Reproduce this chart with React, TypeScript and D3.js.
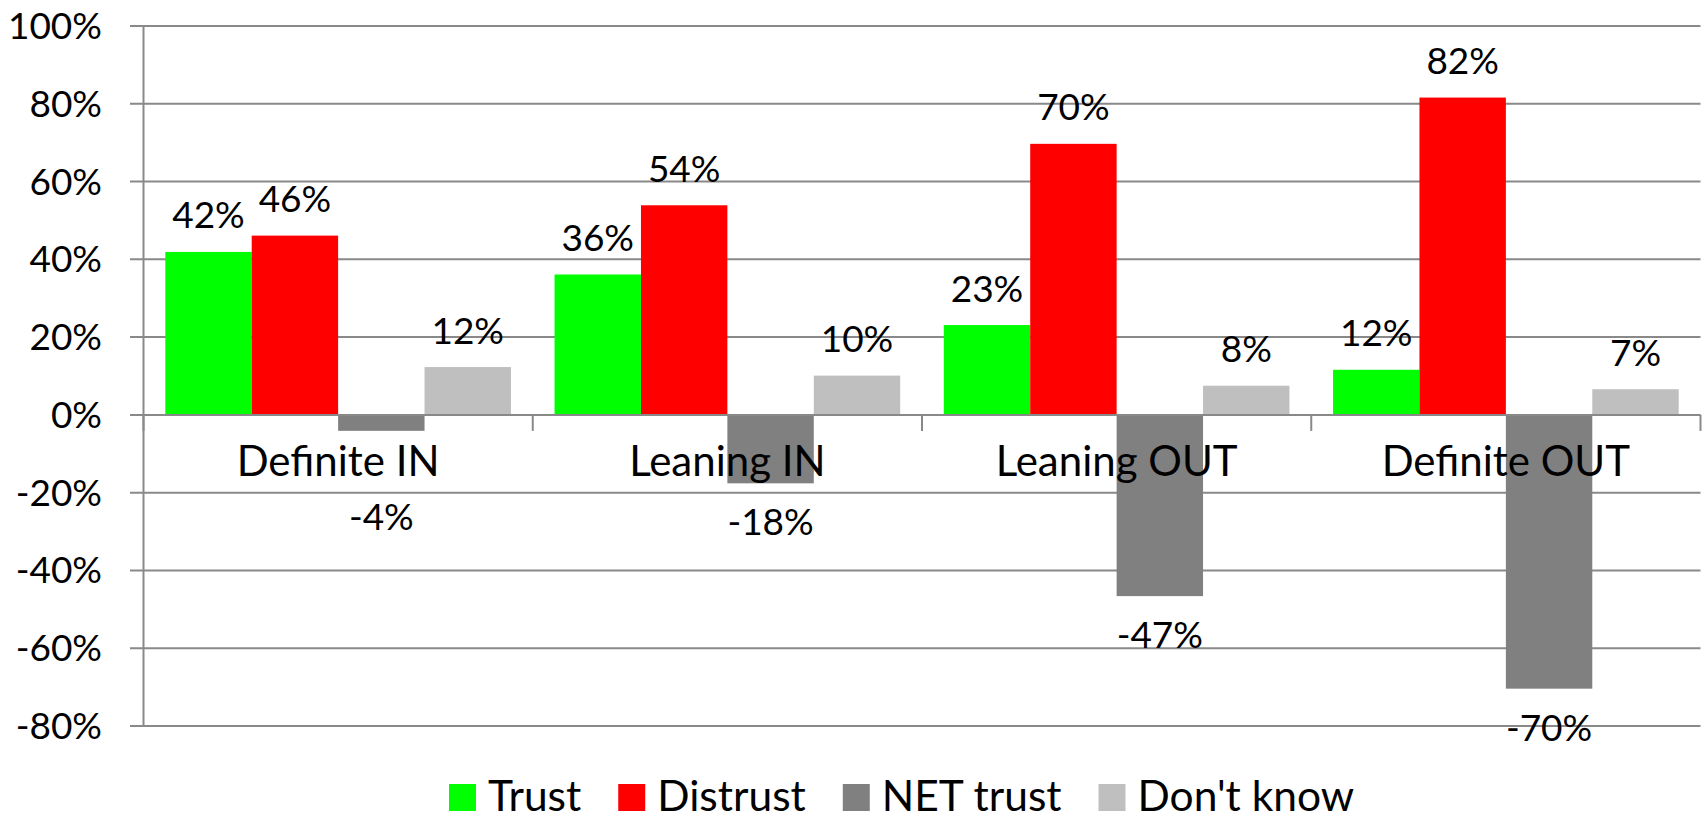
import React, { useEffect, useRef } from 'react'
import * as d3 from 'd3'

const categories = ['Definite IN', 'Leaning IN', 'Leaning OUT', 'Definite OUT']
const seriesNames = ['Trust', 'Distrust', 'NET trust', "Don't know"]
const trust = [41.9, 36.1, 23.1, 11.6]
const distrust = [46.1, 53.9, 69.7, 81.6]
const netTrust = [-4.1, -17.6, -46.6, -70.4]
const dontKnow = [12.3, 10.1, 7.5, 6.6]
const yTicks = [-80, -60, -40, -20, 0, 20, 40, 60, 80, 100]
const colors = ['#00ff00', '#ff0000', '#808080', '#bfbfbf']

const TrustChart = () => {
  const ref = useRef<HTMLDivElement>(null)

  useEffect(() => {
    document.body.style.margin = '0'
    const width = 1708
    const height = 820
    const margin = { top: 26, right: 7.5, bottom: 94, left: 143.5 }
    const font = 'Lato, "Open Sans", sans-serif'
    const values = [trust, distrust, netTrust, dontKnow]

    const x0 = d3.scaleBand().domain(categories).range([margin.left, width - margin.right]).padding(0)
    const pad = x0.bandwidth() * 0.056
    const x1 = d3.scaleBand().domain(seriesNames).range([pad, x0.bandwidth() - pad]).padding(0)
    const y = d3.scaleLinear().domain([-80, 100]).range([height - margin.bottom, margin.top])

    const svg = d3.select(ref.current)
      .append('svg')
      .attr('width', width)
      .attr('height', height)
      .style('display', 'block')
      .style('font-family', font)

    // grid + left ticks
    svg.append('g')
      .selectAll('line')
      .data(yTicks)
      .enter()
      .append('line')
      .attr('x1', margin.left - 13.5)
      .attr('x2', width - margin.right)
      .attr('y1', (d) => y(d))
      .attr('y2', (d) => y(d))
      .attr('stroke', '#898989')
      .attr('stroke-width', 2)

    svg.append('g')
      .selectAll('text')
      .data(yTicks)
      .enter()
      .append('text')
      .attr('x', 102)
      .attr('y', (d) => y(d) + 13)
      .attr('text-anchor', 'end')
      .attr('font-size', 37)
      .attr('fill', '#000')
      .text((d) => d + '%')

    // bars
    const groups = svg.append('g')
      .selectAll('g')
      .data(categories)
      .enter()
      .append('g')
      .attr('transform', (d) => `translate(${x0(d)},0)`)

    seriesNames.forEach((s, si) => {
      groups.append('rect')
        .attr('x', x1(s)!)
        .attr('width', x1.bandwidth())
        .attr('y', (_, i) => y(Math.max(0, values[si][i])))
        .attr('height', (_, i) => Math.abs(y(values[si][i]) - y(0)))
        .attr('fill', colors[si])
    })

    // y axis line and zero line
    svg.append('line')
      .attr('x1', margin.left).attr('x2', margin.left)
      .attr('y1', margin.top).attr('y2', height - margin.bottom)
      .attr('stroke', '#898989').attr('stroke-width', 2)

    svg.append('line')
      .attr('x1', margin.left - 13.5).attr('x2', width - margin.right)
      .attr('y1', y(0)).attr('y2', y(0))
      .attr('stroke', '#898989').attr('stroke-width', 2)

    // category ticks
    const bounds = categories.map((c) => x0(c)!).concat([width - margin.right])
    svg.append('g')
      .selectAll('line')
      .data(bounds)
      .enter()
      .append('line')
      .attr('x1', (d) => d).attr('x2', (d) => d)
      .attr('y1', y(0)).attr('y2', y(0) + 16)
      .attr('stroke', '#898989').attr('stroke-width', 2)

    // category labels
    const catBaseline = y(0) + 61
    svg.append('g')
      .selectAll('text')
      .data(categories)
      .enter()
      .append('text')
      .attr('x', (d) => x0(d)! + x0.bandwidth() / 2)
      .attr('y', catBaseline)
      .attr('text-anchor', 'middle')
      .attr('font-size', 42)
      .attr('fill', '#000')
      .text((d) => d)

    // value labels
    seriesNames.forEach((s, si) => {
      groups.append('text')
        .attr('x', x1(s)! + x1.bandwidth() / 2)
        .attr('y', (_, i) => {
          const v = values[si][i]
          if (v >= 0) return y(v) - 23.5
          return Math.max(y(v) + 52, catBaseline + 54)
        })
        .attr('text-anchor', 'middle')
        .attr('font-size', 37)
        .attr('fill', '#000')
        .text((_, i) => Math.round(values[si][i]) + '%')
    })

    // legend
    const legend = svg.append('g')
    let lx = 449
    seriesNames.forEach((s, si) => {
      legend.append('rect')
        .attr('x', lx).attr('y', 784)
        .attr('width', 27).attr('height', 27)
        .attr('fill', colors[si])
      const t = legend.append('text')
        .attr('x', lx + 39).attr('y', 811)
        .attr('font-size', 42.5)
        .attr('fill', '#000')
        .text(s)
      const w = (t.node() as SVGTextElement).getComputedTextLength()
      lx += 39 + w + 37
    })

    return () => {
      d3.select(ref.current).selectAll('*').remove()
    }
  }, [])

  return <div ref={ref}></div>
}

export default function App() {
  return <TrustChart />
}
